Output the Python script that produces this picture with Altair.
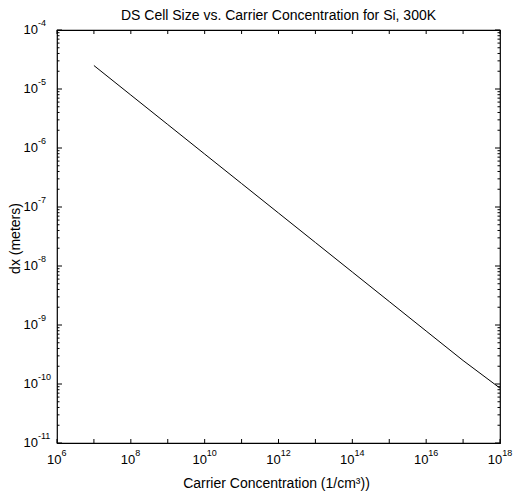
import altair as alt
import pandas as pd

# data
conc = [1e7, 1e8, 1e9, 1e10, 1e11, 1e12, 1e13, 1e14, 1e15, 1e16, 1e17, 1e18]
dx = [2.5e-5, 7.9e-6, 2.5e-6, 7.9e-7, 2.5e-7, 7.9e-8, 2.5e-8, 7.9e-9, 2.5e-9, 7.9e-10, 2.5e-10, 8.5e-11]

x_label_exps = [6, 8, 10, 12, 14, 16, 18]
x_tick_exps = list(range(6, 19))
y_label_exps = list(range(-11, -3))
y_minor_mults = [2, 3, 4, 5, 6, 7, 8, 9]

title_text = "DS Cell Size vs. Carrier Concentration for Si, 300K"
x_title = "Carrier Concentration (1/cm³))"
y_title = "dx (meters)"

W, H = 443, 413
FONT = "Liberation Sans"
BLACK = "#000000"
BASE_FS, EXP_FS = 13, 9

line_df = pd.DataFrame({"n": conc, "dx": dx})
xlab_df = pd.DataFrame({"v": [10.0 ** e for e in x_label_exps], "exp": [str(e) for e in x_label_exps], "base": "10"})
xtick_df = pd.DataFrame({"v": [10.0 ** e for e in x_tick_exps]})
ylab_df = pd.DataFrame({"v": [10.0 ** e for e in y_label_exps], "exp": [str(e) for e in y_label_exps], "base": "10"})
ymin_df = pd.DataFrame({"v": [m * 10.0 ** e for e in y_label_exps[:-1] for m in y_minor_mults]})
titles_df = pd.DataFrame({"t": [title_text, x_title, y_title]})

xscale = alt.Scale(type="log", domain=[1e6, 1e18], nice=False)
yscale = alt.Scale(type="log", domain=[1e-11, 1e-4], nice=False)


def xf(f="v"):
    return alt.X(f"{f}:Q", scale=xscale, axis=None)


def yf(f="v"):
    return alt.Y(f"{f}:Q", scale=yscale, axis=None)


line = alt.Chart(line_df).mark_line(color=BLACK, strokeWidth=1).encode(
    x=xf("n"), y=yf("dx"))

rule = dict(color=BLACK, strokeWidth=1)
xt_bottom = alt.Chart(xtick_df).mark_rule(**rule).encode(
    x=xf(), x2="v:Q", y=alt.value(H), y2=alt.value(H - 4))
xt_top = alt.Chart(xtick_df).mark_rule(**rule).encode(
    x=xf(), x2="v:Q", y=alt.value(0), y2=alt.value(4))
yt_left = alt.Chart(ylab_df).mark_rule(**rule).encode(
    y=yf(), y2="v:Q", x=alt.value(0), x2=alt.value(5))
yt_right = alt.Chart(ylab_df).mark_rule(**rule).encode(
    y=yf(), y2="v:Q", x=alt.value(W), x2=alt.value(W - 5))
ym_left = alt.Chart(ymin_df).mark_rule(**rule).encode(
    y=yf(), y2="v:Q", x=alt.value(0), x2=alt.value(2.5))
ym_right = alt.Chart(ymin_df).mark_rule(**rule).encode(
    y=yf(), y2="v:Q", x=alt.value(W), x2=alt.value(W - 2.5))

txt = dict(font=FONT, color=BLACK)
one_digit = alt.expr.length(alt.datum.exp) == 1
two_digit = alt.expr.length(alt.datum.exp) == 2


def x_labels(cond, join_dx):
    base = alt.Chart(xlab_df).transform_filter(cond)
    b = base.mark_text(fontSize=BASE_FS, align="right", baseline="middle", dx=join_dx, **txt).encode(
        x=xf(), y=alt.value(H + 17), text="base:N")
    e = base.mark_text(fontSize=EXP_FS, align="left", baseline="middle", dx=join_dx, **txt).encode(
        x=xf(), y=alt.value(H + 10), text="exp:N")
    return [b, e]


xl = x_labels(one_digit, 4.5) + x_labels(two_digit, 2.2)

yl_base = alt.Chart(ylab_df).mark_text(fontSize=BASE_FS, align="right", baseline="middle", **txt).encode(
    y=yf(), x=alt.value(-19), text="base:N")
yl_exp = alt.Chart(ylab_df).mark_text(fontSize=EXP_FS, align="left", baseline="middle", dy=-7, **txt).encode(
    y=yf(), x=alt.value(-19), text="exp:N")

title_mark = alt.Chart(titles_df).transform_filter(alt.datum.t == title_text).mark_text(
    fontSize=14, align="center", baseline="alphabetic", **txt).encode(
    x=alt.value(W / 2), y=alt.value(-10), text="t:N")
xtitle_mark = alt.Chart(titles_df).transform_filter(alt.datum.t == x_title).mark_text(
    fontSize=14, align="center", baseline="alphabetic", **txt).encode(
    x=alt.value(W / 2 - 2), y=alt.value(H + 45), text="t:N")
ytitle_mark = alt.Chart(titles_df).transform_filter(alt.datum.t == y_title).mark_text(
    fontSize=14, align="center", baseline="middle", angle=270, **txt).encode(
    x=alt.value(-41), y=alt.value(H / 2 + 2), text="t:N")

chart = alt.layer(
    line, xt_bottom, xt_top, yt_left, yt_right, ym_left, ym_right,
    *xl, yl_base, yl_exp, title_mark, xtitle_mark, ytitle_mark,
).properties(
    width=W, height=H,
    autosize=alt.AutoSizeParams(type="none"),
    padding={"left": 49, "top": 22, "right": 13, "bottom": 54},
).configure_view(stroke=BLACK, strokeWidth=1.2)

chart.save("out.html", embed_options={"renderer": "svg", "actions": False})
